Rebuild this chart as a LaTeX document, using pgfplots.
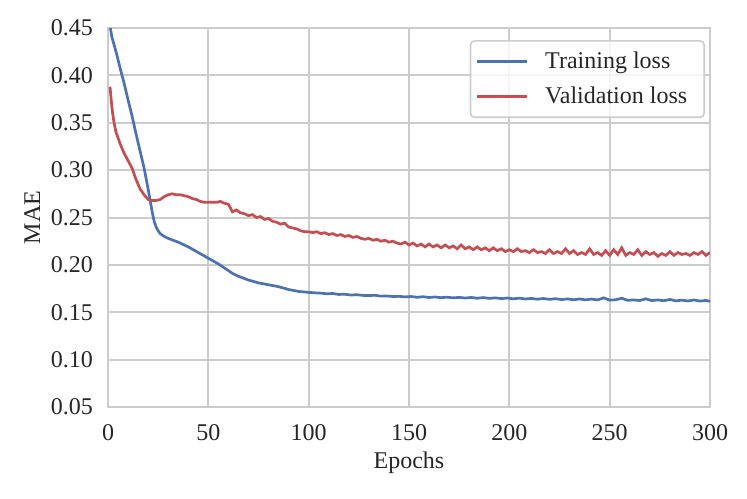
\documentclass[border=0pt]{standalone}
\usepackage{fontspec}
\setmainfont{Liberation Serif}
\usepackage{pgfplots}
\pgfplotsset{compat=1.18}
\definecolor{sbblue}{HTML}{4C72B0}
\definecolor{sbred}{HTML}{C44E52}
\definecolor{gridc}{HTML}{CCCCCC}
\definecolor{txt}{HTML}{262626}
\begin{document}
\begin{tikzpicture}[font=\fontsize{12}{14.4}\selectfont]
\begin{axis}[
  scale only axis, width=301pt, height=189.5pt,
  xmin=0, xmax=300, ymin=0.05, ymax=0.45,
  xtick={0,50,100,150,200,250,300},
  ytick={0.05,0.10,0.15,0.20,0.25,0.30,0.35,0.40,0.45},
  /pgf/number format/assume math mode=true,
  yticklabel style={/pgf/number format/fixed, /pgf/number format/precision=2, /pgf/number format/fixed zerofill},
  ticklabel style={text=txt},
  xticklabel shift=5pt, yticklabel shift=4pt,
  major tick length=0pt, tick style={draw=none},
  grid=major, grid style={gridc, line width=1pt},
  axis line style={gridc, line width=1pt},
  xlabel={Epochs}, ylabel={MAE},
  label style={text=txt},
  x label style={at={(axis description cs:0.5,-0.148)}, anchor=center},
  y label style={at={(axis description cs:-0.126,0.5)}, anchor=center, rotate=0},
  clip=true,
  legend cell align=left,
  legend image code/.code={\draw[#1] (0pt,0pt) -- (25pt,0pt);},
  legend style={at={(axis description cs:0.9917,0.968)}, anchor=north east,
    draw=gridc, line width=0.8pt, rounded corners=2pt, fill=white, fill opacity=0.8, text opacity=1,
    inner xsep=2.5pt, inner ysep=3.5pt, row sep=3.5pt,
    /tikz/every odd column/.style={column sep=2.5pt},
    nodes={inner xsep=6pt, text=txt}, font=\fontsize{12}{14.4}\selectfont},
]
\coordinate (ll) at (rel axis cs:0,0);
\addplot[sbblue, line width=1.35pt] coordinates {
(1,0.452)(2,0.440)(4,0.425)(6,0.408)(8,0.392)(10,0.374)(12,0.357)(14,0.338)(16,0.320)(18,0.302)(20,0.280)(21,0.268)(22,0.256)(23,0.246)(24,0.240)(25,0.236)(26,0.233)(28,0.230)(30,0.228)(35,0.224)(40,0.219)(45,0.213)(50,0.207)(55,0.201)(60,0.194)(62,0.191)(65,0.188)(70,0.184)(75,0.181)(80,0.179)(85,0.177)(90,0.174)(95,0.172)
(100,0.171)(103,0.1705)(106,0.1702)(109,0.1695)(112,0.1698)(115,0.1688)(118,0.1690)(121,0.1682)(124,0.1685)(127,0.1678)(130,0.1676)(133,0.1679)(136,0.1670)(139,0.1672)(142,0.1666)(145,0.1668)(148,0.1662)(151,0.1666)(154,0.1658)(157,0.1664)(160,0.1656)(163,0.1661)(166,0.1654)(169,0.1659)(172,0.1652)(175,0.1657)(178,0.1650)(181,0.1656)(184,0.1648)(187,0.1655)(190,0.1646)(193,0.1652)(196,0.1644)(199,0.1650)(202,0.1642)(205,0.1649)(208,0.1640)(211,0.1646)(214,0.1638)(217,0.1645)(220,0.1636)(223,0.1643)(226,0.1634)(229,0.1641)(232,0.1632)(235,0.1640)(238,0.1631)(241,0.1639)(244,0.1630)(247,0.1652)(250,0.1628)(253,0.1632)(256,0.1648)(259,0.1626)(262,0.1630)(265,0.1624)(268,0.1642)(271,0.1623)(274,0.1630)(277,0.1622)(280,0.1635)(283,0.1620)(286,0.1628)(289,0.1619)(292,0.1630)(295,0.1618)(298,0.1625)(300,0.1615)
};
\addlegendentry{Training loss}
\addplot[sbred, line width=1.35pt] coordinates {
(1,0.388)(2,0.365)(3,0.350)(4,0.340)(6,0.328)(8,0.318)(10,0.310)(12,0.302)(14,0.290)(16,0.280)(18,0.274)(20,0.269)(22,0.268)(24,0.268)(26,0.269)(28,0.272)(30,0.274)(32,0.275)(34,0.274)(36,0.274)(38,0.273)(40,0.272)(42,0.270)(44,0.269)(46,0.267)(48,0.266)(50,0.266)(52,0.266)(54,0.266)(56,0.267)(58,0.265)
(60,0.264)(62,0.256)(64,0.258)(66,0.255)(68,0.254)(70,0.252)(72,0.253)(74,0.250)(76,0.251)(78,0.248)(80,0.249)(82,0.246)(84,0.245)(86,0.243)(88,0.244)(90,0.240)(92,0.239)(94,0.238)(96,0.236)(98,0.235)
(100,0.235)(102,0.234)(104,0.235)(106,0.233)(108,0.234)(110,0.232)(112,0.233)(114,0.231)(116,0.232)(118,0.230)(120,0.231)(122,0.229)(124,0.230)(126,0.228)(128,0.227)(130,0.228)(132,0.226)(134,0.227)(136,0.225)(138,0.226)(140,0.224)(142,0.225)(144,0.223)(146,0.222)(148,0.224)
(150,0.221)(152,0.223)(154,0.220)(156,0.222)(158,0.219)(160,0.222)(162,0.219)(164,0.221)(166,0.218)(168,0.221)(170,0.218)(172,0.220)(174,0.217)(176,0.221)(178,0.217)(180,0.219)(182,0.216)(184,0.219)(186,0.216)(188,0.218)(190,0.215)(192,0.218)(194,0.215)(196,0.217)(198,0.214)
(200,0.216)(202,0.214)(204,0.217)(206,0.214)(208,0.215)(210,0.213)(212,0.216)(214,0.213)(216,0.214)(218,0.212)(220,0.216)(222,0.212)(224,0.214)(226,0.212)(228,0.217)(230,0.212)(232,0.215)(234,0.211)(236,0.213)(238,0.211)(240,0.217)(242,0.211)(244,0.213)(246,0.210)(248,0.215)
(250,0.210)(252,0.216)(254,0.211)(256,0.218)(258,0.210)(260,0.213)(262,0.211)(264,0.216)(266,0.210)(268,0.214)(270,0.211)(272,0.213)(274,0.209)(276,0.212)(278,0.210)(280,0.214)(282,0.210)(284,0.213)(286,0.211)(288,0.212)(290,0.210)(292,0.213)(294,0.211)(296,0.214)(298,0.210)(300,0.213)
};
\addlegendentry{Validation loss}
\end{axis}
\pgfresetboundingbox
\path[use as bounding box] (ll) ++(-54pt,-45.5pt) rectangle ++(373.5pt,249pt);
\end{tikzpicture}
\end{document}
